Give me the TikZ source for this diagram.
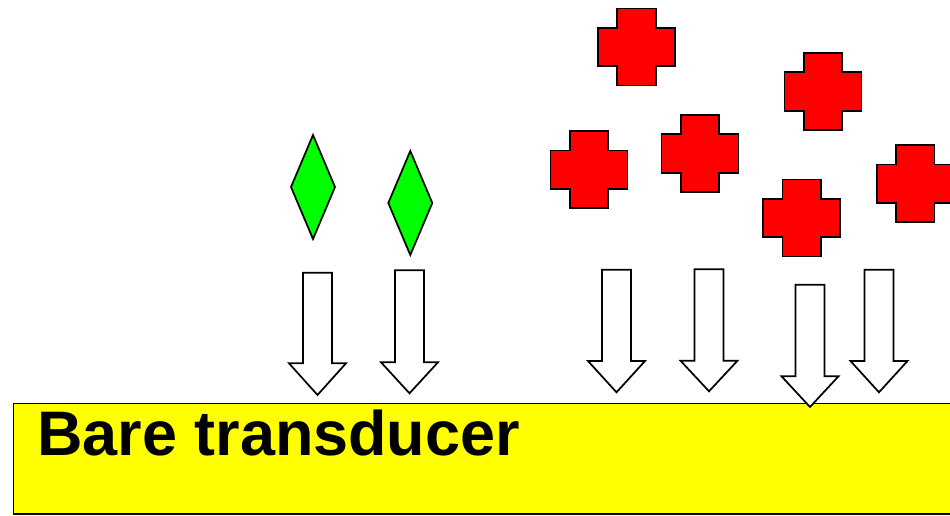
\documentclass[tikz,border=0pt]{standalone}
\usepackage{fontspec}
\setmainfont{Liberation Sans}
\definecolor{crossred}{RGB}{255,0,0}
\definecolor{diagreen}{RGB}{0,255,0}
\definecolor{baseyellow}{RGB}{255,255,0}
\tikzset{
  outline/.style={draw=black, line width=1.3pt, line join=miter},
  crossshape/.style={outline, fill=crossred},
  diashape/.style={outline, fill=diagreen},
  arrowbox/.style={outline, fill=white},
  basebox/.style={outline, fill=baseyellow},
  redcross/.pic={
    \draw[crossshape] (-38.5,-19.25) -- (-19.25,-19.25) -- (-19.25,-38.5) -- (19.25,-38.5)
      -- (19.25,-19.25) -- (38.5,-19.25) -- (38.5,19.25) -- (19.25,19.25)
      -- (19.25,38.5) -- (-19.25,38.5) -- (-19.25,19.25) -- (-38.5,19.25) -- cycle;
  },
  greendiamond/.pic={
    \draw[diashape] (0,-52) -- (22,0) -- (0,52) -- (-22,0) -- cycle;
  }
}
\newcommand{\blockarrow}[4]{%
  \draw[arrowbox] ({#1-14.5},#2) -- ({#1+14.5},#2) -- ({#1+14.5},#3) -- ({#1+28.5},#3)
    -- (#1,#4) -- ({#1-28.5},#3) -- ({#1-14.5},#3) -- cycle;}
\begin{document}
\begin{tikzpicture}[x=0.75pt,y=-0.75pt]
\useasboundingbox (0,0) rectangle (950,516);
\clip (0,0) rectangle (950,516);
% transducer
\draw[basebox] (13.5,403.5) rectangle (980,514);
\node[anchor=base west, inner sep=0pt, font=\fontsize{47.2pt}{50pt}\selectfont\bfseries] (label) at (37,456) {Bare transducer};
% red crosses
\pic at (636.5,47) {redcross};
\pic at (823,91.5) {redcross};
\pic at (589,169.7) {redcross};
\pic at (700,153.5) {redcross};
\pic at (801.7,218) {redcross};
\pic at (915.2,183.7) {redcross};
% green diamonds
\pic at (313,187) {greendiamond};
\pic at (410.3,203) {greendiamond};
% arrows
\blockarrow{317.5}{272.7}{363.3}{395}
\blockarrow{409.5}{270.3}{362.3}{393.3}
\blockarrow{616.5}{269.7}{361}{392.3}
\blockarrow{709}{269.3}{360.7}{391.3}
\blockarrow{810}{284.7}{376.3}{407}
\blockarrow{879}{269.7}{361}{392.3}
\end{tikzpicture}
\end{document}
